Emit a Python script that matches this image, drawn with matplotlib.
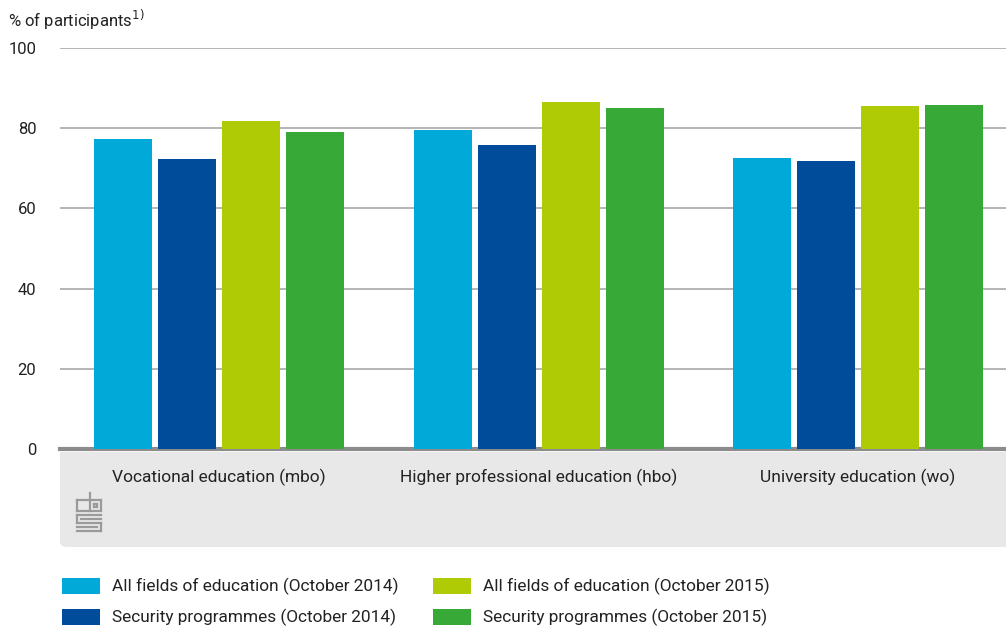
import matplotlib.pyplot as plt
import numpy as np
from matplotlib.patches import Rectangle, FancyBboxPatch

plt.rcParams['font.family'] = ['Roboto', 'DejaVu Sans']

# Data
categories = ["Vocational education (mbo)", "Higher professional education (hbo)",
              "University education (wo)"]
series_labels = ["All fields of education (October 2014)",
                 "Security programmes (October 2014)",
                 "All fields of education (October 2015)",
                 "Security programmes (October 2015)"]
all_2014 = [77.3, 79.6, 72.6]
security_2014 = [72.3, 75.8, 71.8]
all_2015 = [81.8, 86.5, 85.5]
security_2015 = [79.1, 85.0, 85.8]
colors = ["#00a9d8", "#004c9a", "#afcb05", "#36a936"]

W, H = 1006, 627
fig = plt.figure(figsize=(W / 100, H / 100), dpi=100)

def fx(px):
    return px / W

def fy(py):
    return 1 - py / H

# grey panel under the axis (rounded bottom corners)
panel = FancyBboxPatch((fx(60), fy(547)), fx(1006 + 20) - fx(60), fy(452) - fy(547),
                       boxstyle="round,pad=0,rounding_size=0.008",
                       transform=fig.transFigure, facecolor="#e8e8e8",
                       edgecolor="none", zorder=-2)
fig.patches.append(panel)
fig.patches.append(Rectangle((fx(60), fy(500)), fx(1006) - fx(60), fy(452) - fy(500),
                             transform=fig.transFigure, facecolor="#e8e8e8",
                             edgecolor="none", zorder=-2))

ax = fig.add_axes([fx(60), fy(449), fx(1006) - fx(60), fy(48) - fy(449)])
ax.patch.set_alpha(0)

x = np.arange(len(categories))
width = 0.1815
step = 0.2003
series = [all_2014, security_2014, all_2015, security_2015]
for i, (vals, col) in enumerate(zip(series, colors)):
    ax.bar(x + (i - 1.5) * step, vals, width=width, color=col, zorder=3,
           label=series_labels[i])

ax.set_xlim(-0.498, 2.463)
ax.set_ylim(0, 100)
ax.set_yticks([0, 20, 40, 60, 80, 100])
ax.yaxis.grid(True, color="#a8a8a8", linewidth=1.2, zorder=0)
ax.set_axisbelow(True)
for s in ["top", "right", "left"]:
    ax.spines[s].set_visible(False)
ax.spines["bottom"].set_color("#8c8c8c")
ax.spines["bottom"].set_linewidth(3)
ax.tick_params(axis="y", length=0, pad=17, labelsize=12, labelcolor="#222222")
ax.tick_params(axis="x", length=0, pad=14, labelsize=12.5, labelcolor="#222222")
ax.set_xticks(x)
ax.set_xticklabels(categories)

fig.text(fx(8), fy(20), "% of participants$^{1)}$", fontsize=12,
         color="#222222", va="center", ha="left")

# cbs logo approximation
lc = "#9a9a9a"
def seg(x0, y0, x1, y1):
    fig.add_artist(plt.Line2D([fx(x0), fx(x1)], [fy(y0), fy(y1)],
                              transform=fig.transFigure, color=lc, lw=1.6))
# c
seg(88, 500, 77, 500); seg(77, 500, 77, 511); seg(77, 511, 88, 511)
# b
seg(90, 493, 90, 511); seg(90, 511, 101, 511); seg(101, 511, 101, 500); seg(101, 500, 90, 500)
seg(94, 504, 97, 504); seg(97, 504, 97, 507); seg(97, 507, 94, 507); seg(94, 507, 94, 504)
# S
seg(101, 515, 77, 515); seg(77, 515, 77, 523); seg(77, 523, 101, 523)
seg(101, 523, 101, 531); seg(101, 531, 77, 531)
seg(81, 519, 101, 519); seg(77, 527, 97, 527)

# legend
leg_pos = [(62, 586), (62, 617), (433, 586), (433, 617)]
for (lx, ly), lab, col in zip(leg_pos, series_labels, colors):
    fig.patches.append(Rectangle((fx(lx), fy(ly + 8)), fx(38), fy(0) - fy(16),
                                 transform=fig.transFigure, facecolor=col,
                                 edgecolor="none"))
    fig.text(fx(lx + 50), fy(ly), lab, fontsize=12.4, color="#222222",
             va="center", ha="left")

fig.savefig("out.png", dpi=100)
